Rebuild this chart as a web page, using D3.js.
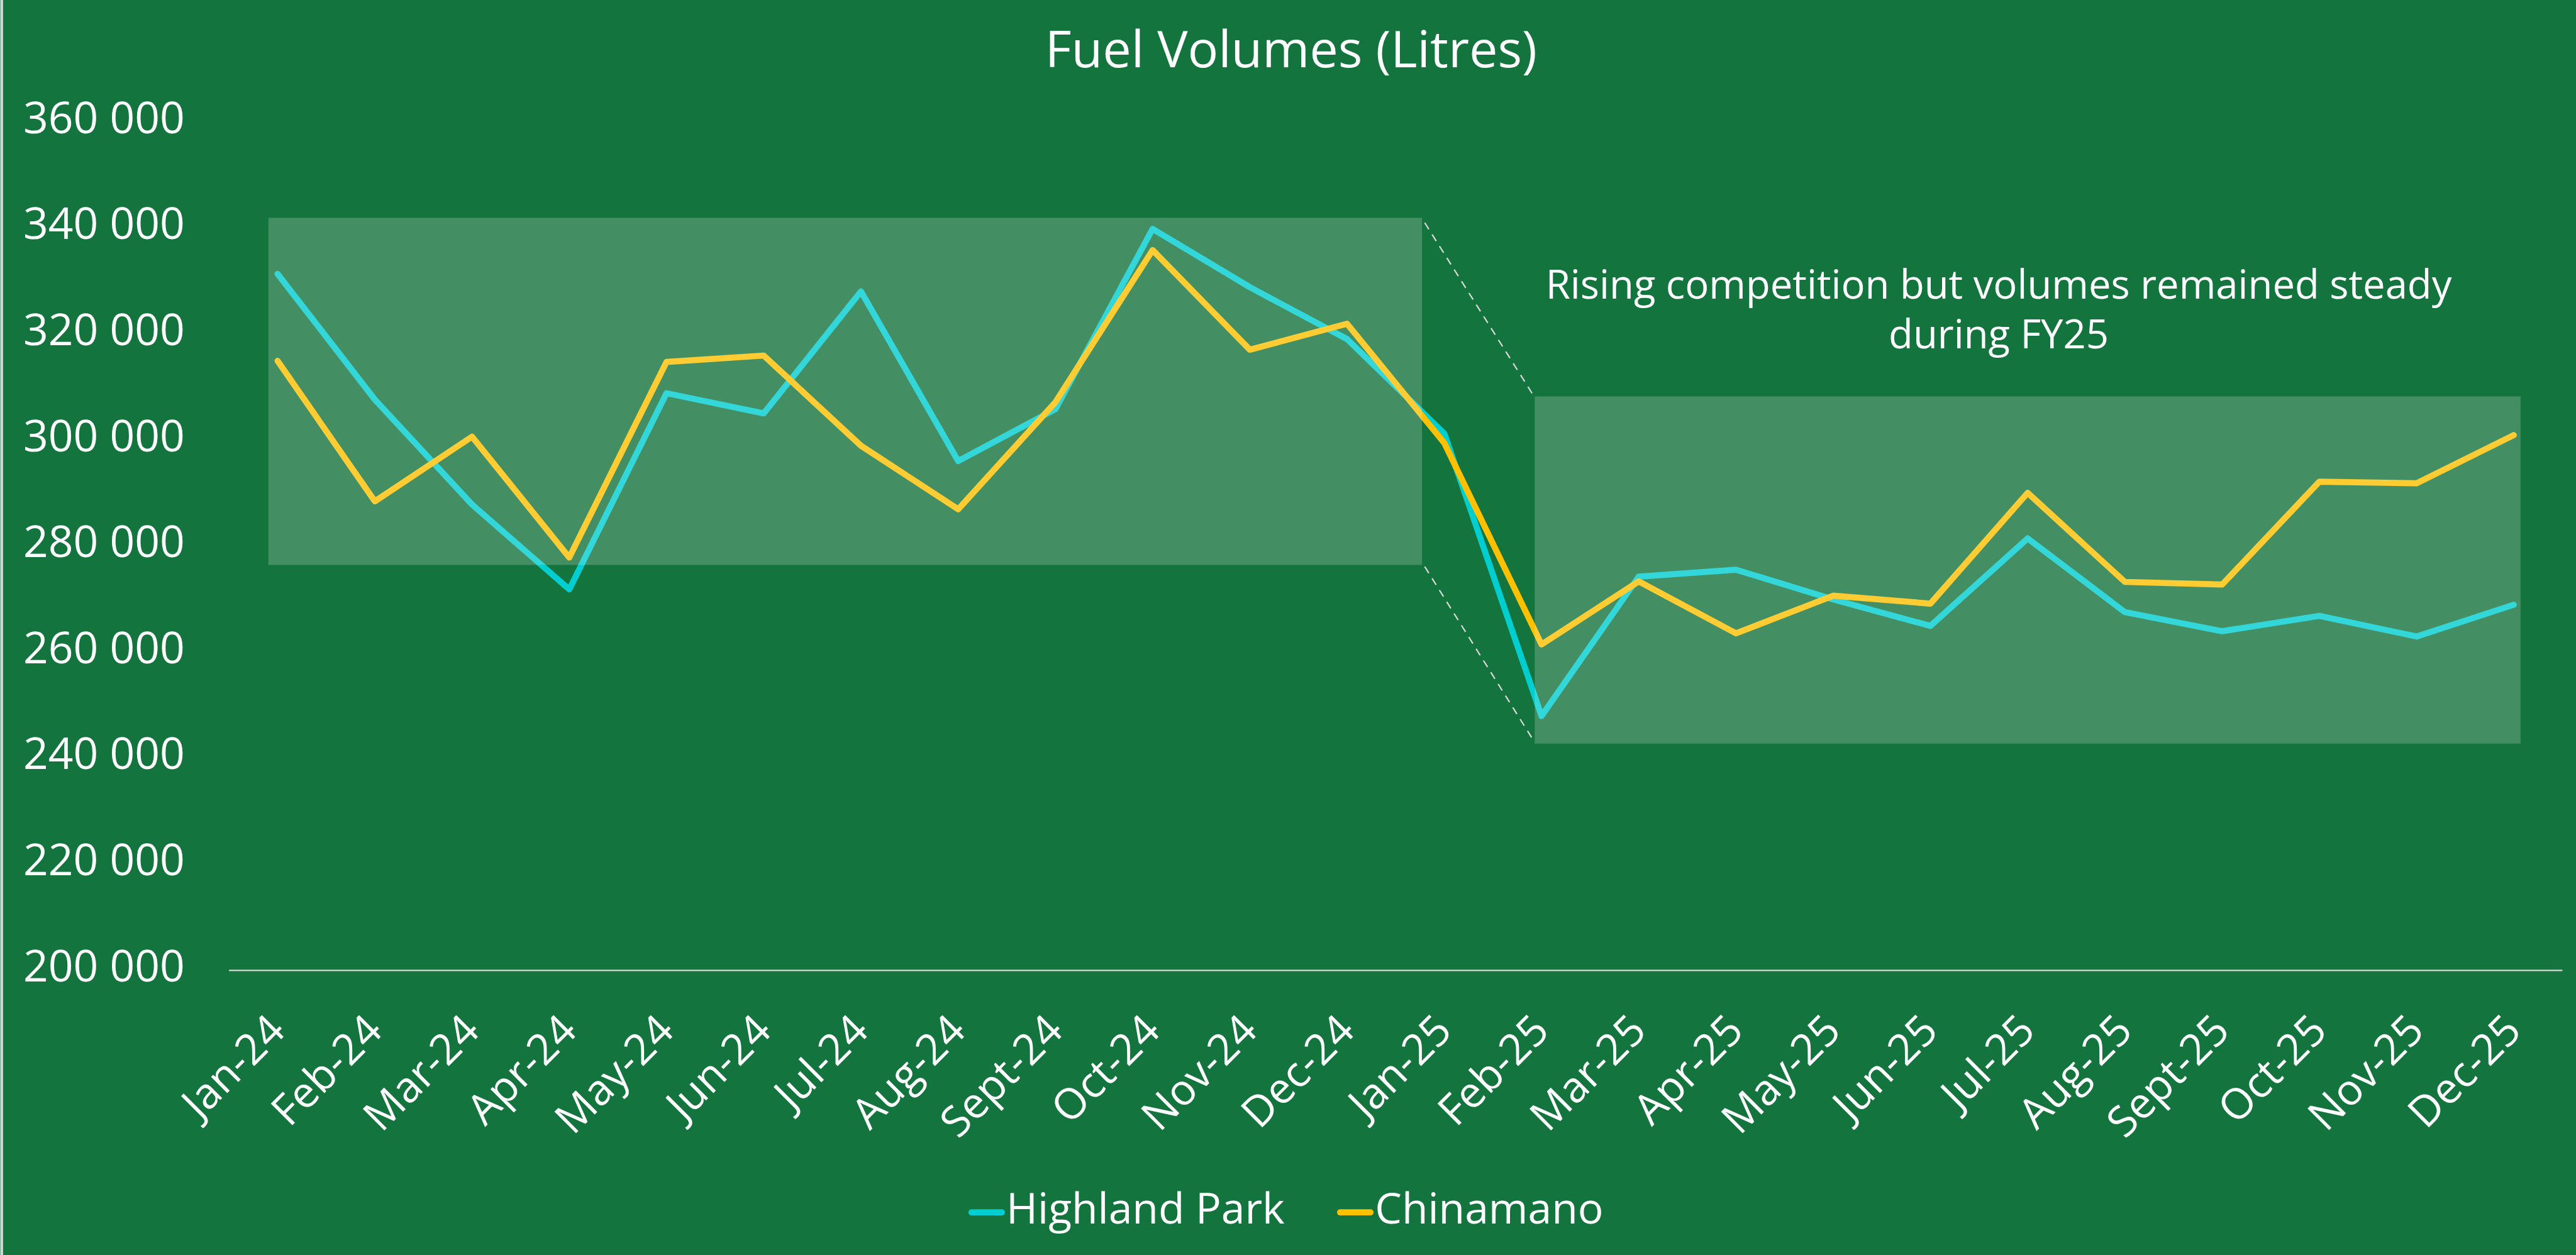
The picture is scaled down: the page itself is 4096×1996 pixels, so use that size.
<!DOCTYPE html>
<html>
<head>
<meta charset="utf-8">
<script src="https://cdn.jsdelivr.net/npm/d3@7"></script>
<style>
  html, body { margin: 0; padding: 0; background: #14743d; }
  svg { display: block; }
  text { font-family: "Open Sans", Lato, sans-serif; fill: #ffffff; }
</style>
</head>
<body>
<svg id="chart"></svg>
<script>
// values
var months = ["Jan-24", "Feb-24", "Mar-24", "Apr-24", "May-24", "Jun-24", "Jul-24", "Aug-24",
  "Sept-24", "Oct-24", "Nov-24", "Dec-24", "Jan-25", "Feb-25", "Mar-25", "Apr-25", "May-25",
  "Jun-25", "Jul-25", "Aug-25", "Sept-25", "Oct-25", "Nov-25", "Dec-25"];
var highlandPark = [331400, 307700, 287900, 271900, 308900, 305100, 328100, 296100, 305900, 339900,
  328900, 319100, 301300, 248000, 274300, 275600, 270000, 265000, 281500, 267600, 264000, 266900,
  263000, 269000];
var chinamano = [315000, 288500, 300700, 277900, 314800, 316000, 299000, 287000, 307200, 335900,
  317100, 322000, 299500, 261500, 273400, 263600, 270700, 269200, 290100, 273300, 272800, 292200,
  291900, 301000];
var seriesNames = ["Highland Park", "Chinamano"];
var yTicks = [200000, 220000, 240000, 260000, 280000, 300000, 320000, 340000, 360000];
// shaded periods, in month index and litres
var boxStart = [-0.095, 12.93];
var boxEnd = [11.77, 23.07];
var boxTop = [342000, 308300];
var boxBottom = [276500, 242800];
var title = "Fuel Volumes (Litres)";
var note = ["Rising competition but volumes remained steady", "during FY25"];

var W = 4651, H = 2267;
var colors = ["#00ced1", "#ffc000"];

var svg = d3.select("#chart")
  .attr("width", 4096)
  .attr("height", 1996)
  .attr("viewBox", "0 0 " + W + " " + H);

svg.append("rect").attr("width", W).attr("height", H).attr("fill", "#14743d");
svg.append("rect").attr("x", 0).attr("y", 0).attr("width", 5).attr("height", H).attr("fill", "#cfd8d2");

var x = d3.scalePoint().domain(months).range([413, 4627]).padding(0.5);
var xi = d3.scaleLinear().domain([0, months.length - 1])
  .range([x(months[0]), x(months[months.length - 1])]);
var y = d3.scaleLinear().domain([200000, 360000]).range([1753, 221]);

var fmt = d3.formatLocale({decimal: ".", thousands: " ", grouping: [3], currency: ["", ""]}).format(",");

// y axis labels, no gridlines except the base line
var yAxis = d3.axisLeft(y).tickValues(yTicks).tickSize(0).tickPadding(0).tickFormat(fmt);
var gy = svg.append("g").attr("class", "axis").attr("transform", "translate(333,0)").call(yAxis);
gy.select(".domain").remove();
gy.selectAll("text")
  .attr("dy", null)
  .attr("y", 19)
  .attr("x", 0)
  .style("font-size", "79px")
  .style("font-family", "'Open Sans', sans-serif")
  .attr("fill", "#fff");

svg.append("line")
  .attr("x1", 413).attr("x2", 4627)
  .attr("y1", y(200000)).attr("y2", y(200000))
  .attr("stroke", "#d9d9d9").attr("stroke-width", 2.5);

// x axis labels rotated
var xAxis = d3.axisBottom(x).tickSize(0).tickPadding(0);
var gx = svg.append("g").attr("class", "axis").attr("transform", "translate(0,1866)").call(xAxis);
gx.select(".domain").remove();
gx.selectAll("text")
  .attr("dy", null)
  .attr("y", 0)
  .attr("x", 0)
  .attr("text-anchor", "end")
  .attr("transform", "translate(17,0) rotate(-45)")
  .style("font-size", "77px")
  .style("font-family", "'Open Sans', sans-serif")
  .attr("fill", "#fff");

// lines
var line = d3.line()
  .x(function(d, i) { return x(months[i]); })
  .y(function(d) { return y(d); });

[highlandPark, chinamano].forEach(function(s, k) {
  svg.append("path")
    .datum(s)
    .attr("d", line)
    .attr("fill", "none")
    .attr("stroke", colors[k])
    .attr("stroke-width", 11)
    .attr("stroke-linejoin", "round")
    .attr("stroke-linecap", "round");
});

// translucent boxes drawn over the lines
for (var b = 0; b < boxStart.length; b++) {
  svg.append("rect")
    .attr("x", xi(boxStart[b]))
    .attr("y", y(boxTop[b]))
    .attr("width", xi(boxEnd[b]) - xi(boxStart[b]))
    .attr("height", y(boxBottom[b]) - y(boxTop[b]))
    .attr("fill", "#ffffff")
    .attr("fill-opacity", 0.2);
}

// dashed connectors between the two boxes
var x1 = xi(boxEnd[0]) + 5, x2 = xi(boxStart[1]);
svg.append("line")
  .attr("x1", x1).attr("y1", y(boxTop[0]) + 9)
  .attr("x2", x2).attr("y2", y(boxTop[1]) + 2)
  .attr("stroke", "#d9d9d9").attr("stroke-width", 2.5).attr("stroke-dasharray", "14,11");
svg.append("line")
  .attr("x1", x1).attr("y1", y(boxBottom[0]) + 3)
  .attr("x2", x2).attr("y2", y(boxBottom[1]) - 2)
  .attr("stroke", "#d9d9d9").attr("stroke-width", 2.5).attr("stroke-dasharray", "14,11");

// title
svg.append("text")
  .attr("x", 2331).attr("y", 121)
  .attr("text-anchor", "middle")
  .style("font-size", "92px")
  .text(title);

// note
svg.selectAll(".note")
  .data(note)
  .enter().append("text")
  .attr("class", "note")
  .attr("x", 3609)
  .attr("y", function(d, i) { return 539 + i * 90; })
  .attr("text-anchor", "middle")
  .style("font-size", "72px")
  .text(function(d) { return d; });

// legend
var legend = svg.append("g");
var lx = 0;
seriesNames.forEach(function(name, k) {
  var g = legend.append("g").attr("transform", "translate(" + lx + ",0)");
  g.append("line")
    .attr("x1", 5).attr("x2", 60).attr("y1", 0).attr("y2", 0)
    .attr("stroke", colors[k]).attr("stroke-width", 11).attr("stroke-linecap", "round");
  var t = g.append("text")
    .attr("x", 68).attr("y", 20)
    .style("font-size", "77px")
    .text(name);
  lx += 68 + t.node().getComputedTextLength() + 95;
});
var legendWidth = lx - 95;
legend.attr("transform", "translate(" + (2322 - legendWidth / 2) + ",2190)");
</script>
</body>
</html>
